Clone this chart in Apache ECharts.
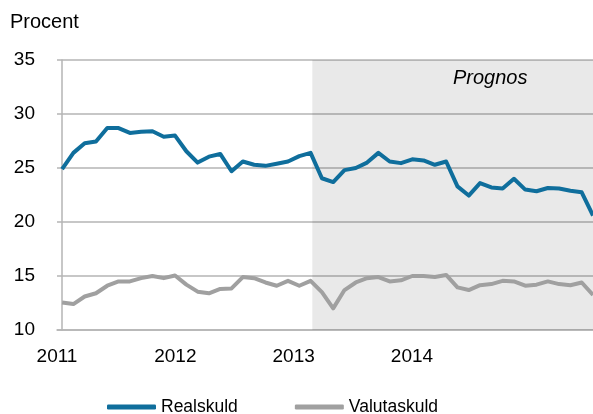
<!DOCTYPE html>
<html>
<head>
<meta charset="utf-8">
<script src="https://cdn.jsdelivr.net/npm/echarts@6/dist/echarts.min.js"></script>
<style>
  html, body { margin: 0; padding: 0; background: #fff; }
  #chart { width: 593px; height: 414px; }
</style>
</head>
<body>
<div id="chart"></div>
<script>
// monthly, jan 2011 - dec 2014
const realskuld = [
  24.9, 26.4, 27.3, 27.45, 28.7, 28.7, 28.25, 28.35, 28.4, 27.9, 28.0, 26.55,
  25.5, 26.05, 26.3, 24.7, 25.6, 25.3, 25.2, 25.4, 25.6, 26.1, 26.4, 24.05,
  23.7, 24.8, 25.0, 25.5, 26.4, 25.6, 25.45, 25.8, 25.7, 25.3, 25.6, 23.3,
  22.45, 23.6, 23.2, 23.1, 24.0, 23.0, 22.85, 23.15, 23.1, 22.9, 22.75, 20.6
]
const valutaskuld = [
  12.55, 12.4, 13.1, 13.4, 14.1, 14.5, 14.5, 14.8, 15.0, 14.8, 15.05, 14.2,
  13.55, 13.4, 13.8, 13.85, 14.9, 14.8, 14.4, 14.1, 14.55, 14.1, 14.55, 13.5,
  12.0, 13.7, 14.4, 14.8, 14.9, 14.5, 14.6, 15.0, 15.0, 14.9, 15.1, 13.95,
  13.7, 14.15, 14.25, 14.55, 14.5, 14.1, 14.2, 14.5, 14.25, 14.15, 14.4, 13.25
]
const yearLabels = [2011, 2012, 2013, 2014]
const prognosStart = 22.15 // month index where the forecast shading begins
const prognosEnd = 47

const gridColor = '#b5b5b5'
const font = "'Liberation Sans', Arial, sans-serif"

const chart = echarts.init(document.getElementById('chart'))
chart.setOption({
  animation: false,
  textStyle: { fontFamily: font },
  title: {
    text: 'Procent',
    left: 5, top: 7,
    textStyle: { fontSize: 20, fontWeight: 'normal', color: '#000', fontFamily: font }
  },
  graphic: [{
    type: 'text',
    z: 100,
    left: 453, top: 68,
    style: { text: 'Prognos', font: 'italic 20px ' + font, fill: '#000' }
  }],
  grid: { left: 57, right: 0, top: 60, bottom: 84 },
  legend: {
    data: ['Realskuld', 'Valutaskuld'],
    left: 107, top: 398,
    padding: 0,
    icon: 'roundRect',
    itemWidth: 49, itemHeight: 5,
    itemGap: 57,
    textStyle: { fontSize: 17.5, color: '#000', fontFamily: font }
  },
  xAxis: [{
    type: 'value',
    min: -0.45, max: 47,
    axisLine: { show: true, lineStyle: { color: gridColor, width: 1.5 } },
    axisTick: { show: false },
    axisLabel: { show: false },
    splitLine: { show: false }
  }, {
    type: 'value',
    position: 'bottom',
    min: 2011, max: 2015.53,
    axisLine: { show: false },
    axisTick: { show: false },
    splitLine: { show: false },
    axisLabel: {
      customValues: yearLabels,
      fontSize: 19, color: '#000', margin: 17,
      formatter: v => String(v)
    }
  }],
  yAxis: {
    type: 'value',
    min: 10, max: 35, interval: 5,
    axisLine: { show: true, lineStyle: { color: gridColor, width: 1.5 } },
    axisTick: { show: false },
    axisLabel: { fontSize: 19, color: '#000', margin: 22 },
    splitLine: { lineStyle: { color: gridColor, width: 1.5 } }
  },
  series: [{
    name: 'shade',
    type: 'line',
    data: [],
    silent: true,
    markArea: {
      silent: true,
      itemStyle: { color: 'rgba(0,0,0,0.085)' },
      data: [[{ xAxis: prognosStart }, { xAxis: prognosEnd }]]
    }
  }, {
    name: 'Realskuld',
    type: 'line',
    data: realskuld.map((v, i) => [i, v]),
    symbol: 'none',
    lineStyle: { color: '#0f6e9c', width: 4, join: 'round' },
    itemStyle: { color: '#0f6e9c' }
  }, {
    name: 'Valutaskuld',
    type: 'line',
    data: valutaskuld.map((v, i) => [i, v]),
    symbol: 'none',
    lineStyle: { color: '#a0a0a0', width: 4, join: 'round' },
    itemStyle: { color: '#a0a0a0' }
  }]
})
</script>
</body>
</html>
